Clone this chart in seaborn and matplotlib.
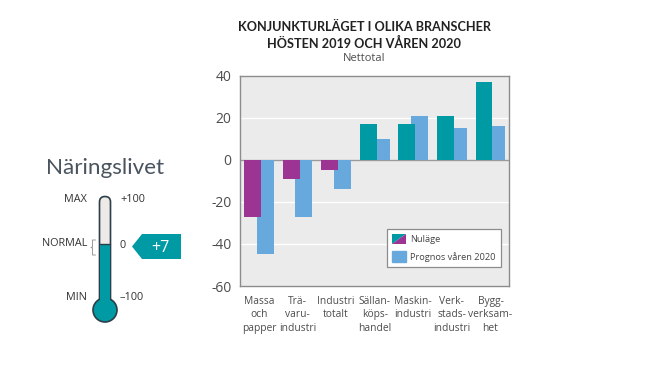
import numpy as np
import pandas as pd
import seaborn as sns
import matplotlib.pyplot as plt
from matplotlib.legend_handler import HandlerBase
from matplotlib.patches import Circle, FancyBboxPatch, Polygon, Rectangle

# data
branscher = ['Massa\noch\npapper', 'Trä-\nvaru-\nindustri', 'Industri\ntotalt', 'Sällan-\nköps-\nhandel',
             'Maskin-\nindustri', 'Verk-\nstads-\nindustri', 'Bygg-\nverksam-\nhet']
nulage = [-27, -9, -5, 17, 17, 21, 37]
prognos = [-45, -27, -14, 10, 21, 15, 16]
yticks = [40, 20, 0, -20, -40, -60]

TEAL = '#009aa5'
PURPLE = '#9b3492'
BLUE = '#68a9dd'
GREY = '#4d4d4d'


class SplitHandler(HandlerBase):
    # legend swatch split diagonally teal / purple
    def create_artists(self, legend, orig_handle, xd, yd, w, h, fontsize, trans):
        a = Polygon([(-xd, -yd), (-xd, h - yd), (w - xd, h - yd)], color=TEAL, lw=0, transform=trans)
        b = Polygon([(-xd, -yd), (w - xd, -yd), (w - xd, h - yd)], color=PURPLE, lw=0, transform=trans)
        return [a, b]


sns.set_theme(style='white')
plt.rcParams['font.family'] = ['Open Sans', 'DejaVu Sans']

fig = plt.figure(figsize=(6.45, 3.73), dpi=100)
ax = fig.add_axes([240 / 645, 1 - 286 / 373, 269 / 645, 210 / 373])
ax.set_facecolor('#ebebeb')

df = pd.DataFrame({'pos': np.arange(len(branscher)), 'nulage': nulage, 'prognos': prognos})
df['tecken'] = np.where(df['nulage'] < 0, 'neg', 'pos')

sns.barplot(data=df, x=df['pos'] + 0.168, y='prognos', native_scale=True, width=0.44, color=BLUE,
            saturation=1, linewidth=0, ax=ax, zorder=2)
sns.barplot(data=df, x=df['pos'] - 0.168, y='nulage', hue='tecken', palette={'neg': PURPLE, 'pos': TEAL},
            native_scale=True, dodge=False, width=0.44, saturation=1, linewidth=0, legend=False, ax=ax, zorder=3)

ax.set_xlim(-0.49, 6.48)
ax.set_ylim(-60, 40)
ax.set_yticks(yticks)
ax.set_yticklabels([str(v) for v in yticks], fontsize=10, color=GREY)
ax.set_xticks(df['pos'])
ax.set_xticklabels(branscher, fontsize=7.4, color=GREY, linespacing=1.3)
ax.tick_params(axis='both', length=0)
ax.tick_params(axis='x', pad=7)
ax.tick_params(axis='y', pad=6)
ax.set_xlabel('')
ax.set_ylabel('')
ax.grid(axis='y', color='white', lw=1, zorder=1)
ax.set_axisbelow(True)
ax.axhline(0, color='#9a9a9a', lw=1, zorder=1)
for s in ax.spines.values():
    s.set_color('#8c8c8c')
    s.set_linewidth(1)

split = Rectangle((0, 0), 1, 1)
leg = ax.legend([split, Rectangle((0, 0), 1, 1, color=BLUE)],
                ['Nuläge', 'Prognos våren 2020'],
                handler_map={split: SplitHandler()},
                loc='lower right', bbox_to_anchor=(0.970, 0.0905), borderaxespad=0, fontsize=6.7, frameon=True,
                fancybox=False, framealpha=1, edgecolor='#8c8c8c', facecolor='white', labelcolor='#444444',
                handlelength=1.5, handleheight=1.35, handletextpad=0.45, labelspacing=0.75, borderpad=0.55)
leg.get_frame().set_linewidth(0.9)

fig.text(364 / 645, 1 - 27 / 373, 'KONJUNKTURLÄGET I OLIKA BRANSCHER', ha='center', va='center',
         fontsize=9.1, fontweight='bold', family='Lato', color='#222222')
fig.text(364 / 645, 1 - 43 / 373, 'HÖSTEN 2019 OCH VÅREN 2020', ha='center', va='center',
         fontsize=9.1, fontweight='bold', family='Lato', color='#222222')
fig.text(364 / 645, 1 - 58.5 / 373, 'Nettotal', ha='center', va='center', fontsize=8, color=GREY)

# thermometer, in pixel coordinates of an overlay
th = fig.add_axes([0, 0, 1, 1], facecolor='none')
th.set_xlim(0, 645)
th.set_ylim(373, 0)
th.axis('off')

OUT = '#2c3e48'
th.add_patch(FancyBboxPatch((99.5, 196.5), 11, 118, boxstyle='round,pad=0,rounding_size=5.5',
                            fc='#eeeae8', ec=OUT, lw=1.2, zorder=2))
th.add_patch(Rectangle((100, 244), 10, 66, fc=TEAL, ec='none', zorder=3))
th.plot([100, 110], [244, 244], color=OUT, lw=1, zorder=4)
th.add_patch(Circle((105, 310), 12, fc=TEAL, ec=OUT, lw=1.2, zorder=3))
th.add_patch(Rectangle((100, 296), 10, 18, fc=TEAL, ec='none', zorder=4))
th.plot([95.5, 92.5, 92.5, 91, 92.5, 92.5, 95.5], [240, 240, 247, 247.5, 248, 255, 255], color='#999999', lw=0.7)
th.add_patch(Polygon([(132, 246.5), (142, 234), (181, 234), (181, 259), (142, 259)], fc=TEAL, ec='none'))
th.text(160, 247.5, '+7', color='white', fontsize=11.5, ha='center', va='center')
th.text(105, 168, 'Näringslivet', fontsize=16.2, family='Lato', fontweight='normal', color='#4a545e',
        ha='center', va='center')
for txt, y in [('MAX', 199), ('NORMAL', 244), ('MIN', 297)]:
    th.text(87, y, txt, fontsize=7.8, color='#333333', ha='right', va='center')
for txt, y in [('+100', 199), ('0', 246), ('–100', 297)]:
    th.text(120, y, txt, fontsize=7.8, color='#333333', ha='left', va='center')

fig.savefig('out.png', dpi=100)
